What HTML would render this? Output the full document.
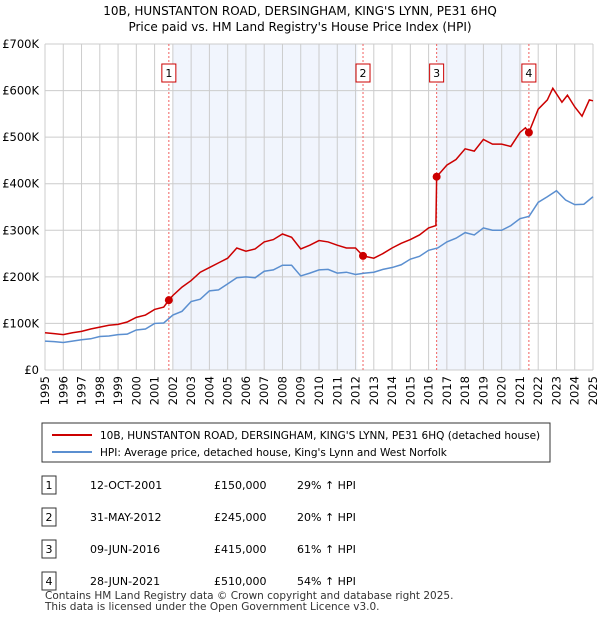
<!DOCTYPE html>
<html><head><meta charset="utf-8"><style>
body{margin:0;background:#fff;font-family:"Liberation Sans","DejaVu Sans",sans-serif;}
svg text{font-family:"DejaVu Sans","Liberation Sans",sans-serif;}
</style></head><body>
<svg id="c" width="600" height="620" viewBox="0 0 600 620" xmlns="http://www.w3.org/2000/svg">
<text x="300" y="15" font-size="12" text-anchor="middle">10B, HUNSTANTON ROAD, DERSINGHAM, KING'S LYNN, PE31 6HQ</text>
<text x="300" y="31" font-size="12" text-anchor="middle">Price paid vs. HM Land Registry's House Price Index (HPI)</text>
<g id="plot"></g>
<g>
<rect x="42" y="423" width="508" height="39" fill="#fff" stroke="#333" stroke-width="1"/>
<line x1="52" y1="435" x2="92" y2="435" stroke="#cc0000" stroke-width="2"/>
<text x="100" y="439" font-size="10.5">10B, HUNSTANTON ROAD, DERSINGHAM, KING'S LYNN, PE31 6HQ (detached house)</text>
<line x1="52" y1="452" x2="92" y2="452" stroke="#5b8fd0" stroke-width="2"/>
<text x="100" y="456" font-size="10.5">HPI: Average price, detached house, King's Lynn and West Norfolk</text>
</g>
<g id="tbl" font-size="11"></g>
<text x="45" y="599" font-size="10.5" fill="#333">Contains HM Land Registry data © Crown copyright and database right 2025.</text>
<text x="45" y="610" font-size="10.5" fill="#333">This data is licensed under the Open Government Licence v3.0.</text>
</svg>
<script>
const hpiYears=[1995,1995.5,1996,1996.5,1997,1997.5,1998,1998.5,1999,1999.5,2000,2000.5,2001,2001.5,2002,2002.5,2003,2003.5,2004,2004.5,2005,2005.5,2006,2006.5,2007,2007.5,2008,2008.5,2009,2009.5,2010,2010.5,2011,2011.5,2012,2012.5,2013,2013.5,2014,2014.5,2015,2015.5,2016,2016.5,2017,2017.5,2018,2018.5,2019,2019.5,2020,2020.5,2021,2021.5,2022,2022.5,2023,2023.5,2024,2024.5,2025];
const hpiValues=[62,61,59,62,65,67,72,73,76,77,86,88,100,101,118,126,147,152,170,172,185,198,200,198,212,215,225,225,202,208,215,216,208,210,205,208,210,216,220,226,238,244,257,262,275,283,295,290,305,300,300,310,325,330,360,372,385,365,355,356,372];
const redYears=[1995,1995.5,1996,1996.5,1997,1997.5,1998,1998.5,1999,1999.5,2000,2000.5,2001,2001.5,2001.78,2002,2002.5,2003,2003.5,2004,2004.5,2005,2005.5,2006,2006.5,2007,2007.5,2008,2008.5,2009,2009.5,2010,2010.5,2011,2011.5,2012,2012.41,2013,2013.5,2014,2014.5,2015,2015.5,2016,2016.4,2016.44,2017,2017.5,2018,2018.5,2019,2019.5,2020,2020.5,2021,2021.3,2021.49,2022,2022.5,2022.8,2023.3,2023.6,2024,2024.4,2024.8,2025];
const redValues=[80,78,76,80,83,88,92,96,98,103,113,118,130,135,150,160,178,192,210,220,230,240,262,255,260,275,280,292,285,260,268,278,275,268,262,262,245,240,250,262,272,280,290,305,310,415,440,452,475,470,495,485,485,480,510,520,510,560,580,605,575,590,565,545,580,578];
const sales=[{n:"1",d:"12-OCT-2001",y:2001.78,p:150,pct:"29%"},{n:"2",d:"31-MAY-2012",y:2012.41,p:245,pct:"20%"},{n:"3",d:"09-JUN-2016",y:2016.44,p:415,pct:"61%"},{n:"4",d:"28-JUN-2021",y:2021.49,p:510,pct:"54%"}];
const shades=[[2002.0,2012.1],[2016.45,2021.1]];
const yTicks=[0,100,200,300,400,500,600,700];
const yLabels=["£0","£100K","£200K","£300K","£400K","£500K","£600K","£700K"];
const L=45,R=593,T=44,B=370,Y0=1995,Y1=2025;
const X=y=>L+(y-Y0)/(Y1-Y0)*(R-L);
const Y=v=>B-v/700*(B-T);
const NS="http://www.w3.org/2000/svg";
const g=document.getElementById('plot');
function mk(t,a,p){const e=document.createElementNS(NS,t);for(const k in a)e.setAttribute(k,a[k]);(p||g).appendChild(e);return e;}
shades.forEach(s=>{const r=mk('rect',{x:X(s[0]),y:T,width:X(s[1])-X(s[0]),height:B-T,fill:'#eef3fc',opacity:0.8});

});
for(let yr=1995;yr<=2025;yr++){const x=X(yr);const l=mk('line',{x1:x,x2:x,y1:T,y2:B,stroke:'#ccc','stroke-width':1});


const t=mk('text',{x:0,y:0,'font-size':11.5,'text-anchor':'end',transform:`translate(${x+4},${B+6}) rotate(-90)`});t.textContent=yr;

}
yTicks.forEach((v,i)=>{const l=mk('line',{x1:L,x2:R,y1:Y(v),y2:Y(v),stroke:'#ccc','stroke-width':1});


const t=mk('text',{x:L-6,y:Y(v)+4,'font-size':11.5,'text-anchor':'end'});t.textContent=yLabels[i];

});
sales.forEach(s=>{const x=X(s.y);const l=mk('line',{x1:x,x2:x,y1:T,y2:B,stroke:'#f06060','stroke-width':1,'stroke-dasharray':'2,2'});


const r=mk('rect',{x:x-7,y:64,width:14,height:18,fill:'#fff',stroke:'#cc0000'});


const t=mk('text',{x:x,y:77,'font-size':11,'text-anchor':'middle'});t.textContent=s.n;

});
const hp=mk('polyline',{points:hpiYears.map((y,i)=>X(y)+','+Y(hpiValues[i])).join(' '),fill:'none',stroke:'#5b8fd0','stroke-width':1.5});


const rp=mk('polyline',{points:redYears.map((y,i)=>X(y)+','+Y(redValues[i])).join(' '),fill:'none',stroke:'#cc0000','stroke-width':1.5});


sales.forEach(s=>{const c=mk('circle',{cx:X(s.y),cy:Y(s.p),r:4,fill:'#cc0000'});

});
const tb=document.getElementById('tbl');
sales.forEach((s,i)=>{const y=489+i*32;
const r=mk('rect',{x:42,y:y-13,width:14,height:18,fill:'#fff',stroke:'#333'},tb);


const cells=[[49,s.n,'middle'],[90,s.d,'start'],[214,'£'+s.p+',000','start'],[297,s.pct+' ↑ HPI','start']];
cells.forEach(c=>{const t=mk('text',{x:c[0],y:y,'text-anchor':c[2]},tb);t.textContent=c[1];

});});
</script>
</body></html>
